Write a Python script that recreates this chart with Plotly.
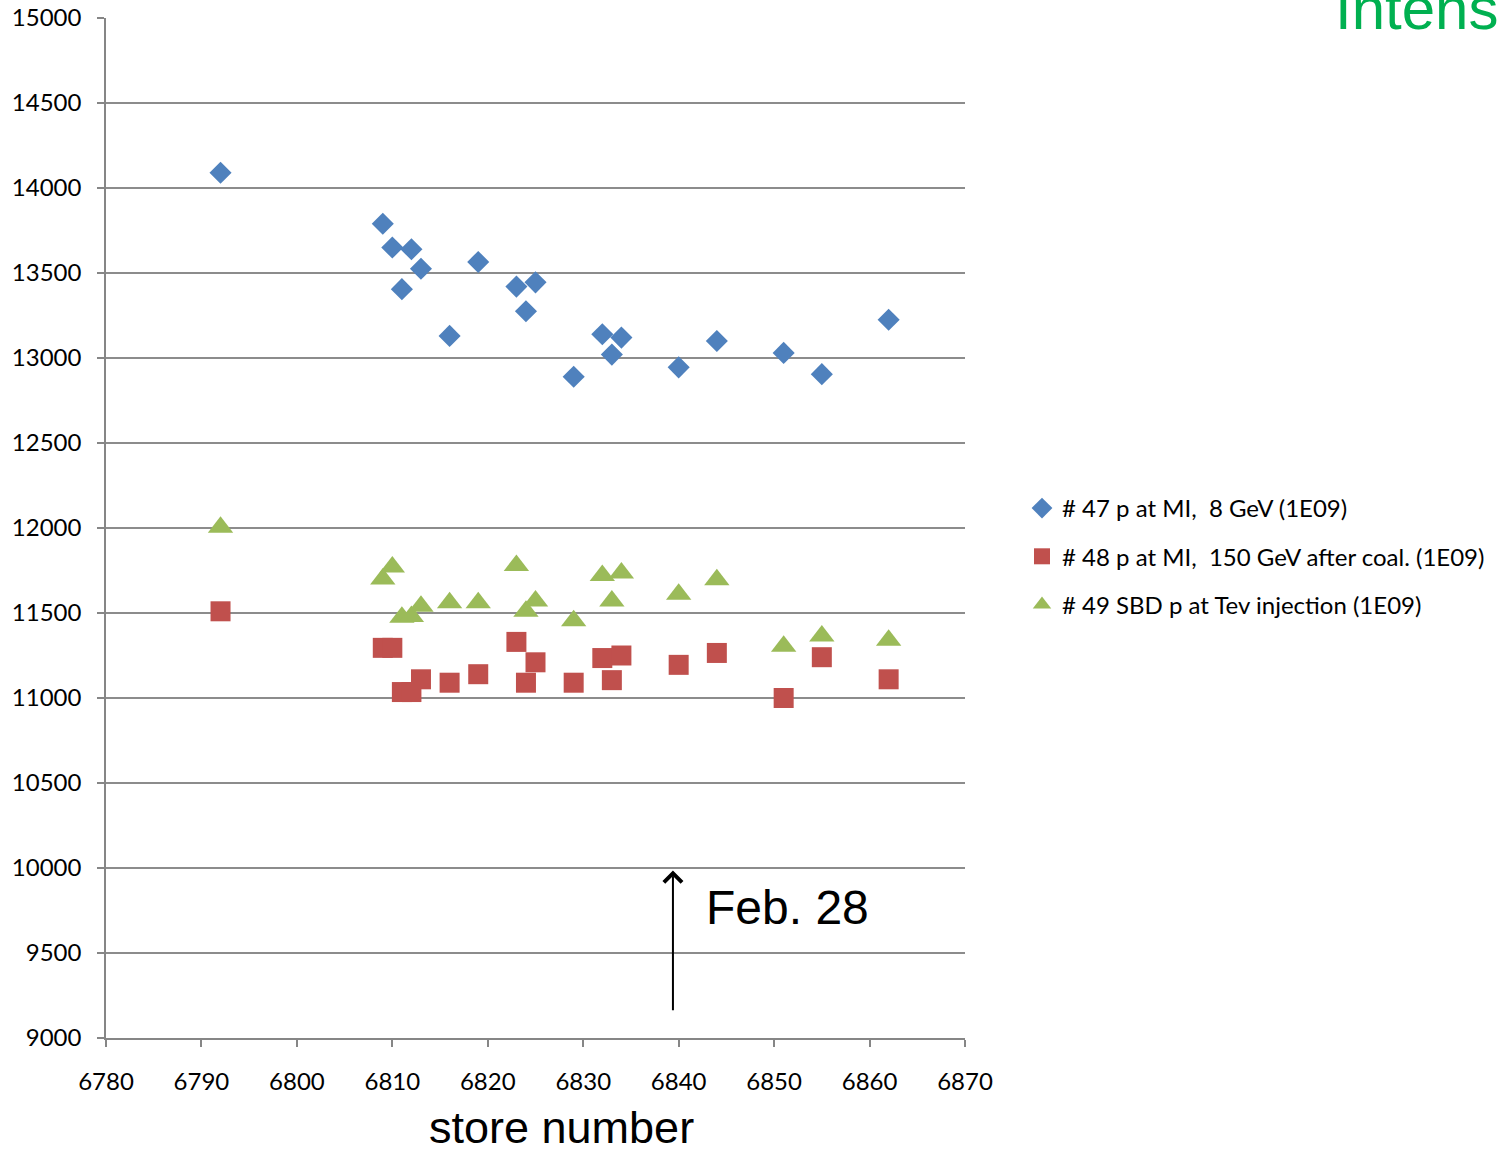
import plotly.graph_objects as go

# store numbers
stores = [6792, 6809, 6810, 6811, 6812, 6813, 6816, 6819, 6823, 6824,
          6825, 6829, 6832, 6833, 6834, 6840, 6844, 6851, 6855, 6862]

# intensities (1E09)
p_mi_8gev = [14090, 13790, 13650, 13405, 13640, 13525, 13130, 13565, 13420, 13275,
             13445, 12890, 13140, 13020, 13120, 12945, 13100, 13030, 12905, 13225]
p_mi_150gev = [11510, 11295, 11295, 11035, 11035, 11110, 11090, 11140, 11330, 11090,
               11210, 11090, 11235, 11105, 11250, 11195, 11265, 11000, 11240, 11110]
p_tev_inj = [12005, 11700, 11770, 11475, 11480, 11540, 11560, 11560, 11780, 11510,
             11570, 11455, 11720, 11570, 11735, 11610, 11695, 11305, 11365, 11340]

names = ["# 47 p at MI,  8 GeV (1E09)",
         "# 48 p at MI,  150 GeV after coal. (1E09)",
         "# 49 SBD p at Tev injection (1E09)"]

x_ticks = list(range(6780, 6871, 10))
y_ticks = list(range(9000, 15001, 500))

FONT = "Lato, Open Sans, sans-serif"
SANS = "Liberation Sans, Arial, sans-serif"

fig = go.Figure()
series = [
    (p_mi_8gev, "diamond", "#4F81BD", 17),
    (p_mi_150gev, "square", "#C0504D", 20),
    (p_tev_inj, "triangle-up", "#9BBB59", 22),
]
for i, (vals, sym, col, sz) in enumerate(series):
    fig.add_trace(go.Scatter(
        x=stores, y=vals, mode="markers", name=names[i], legendgroup=str(i),
        marker=dict(symbol=sym, color=col, size=sz, line=dict(width=0)),
    ))

fig.update_layout(
    width=1498, height=1156,
    margin=dict(l=106, r=533, t=18, b=118, autoexpand=False),
    plot_bgcolor="white", paper_bgcolor="white",
    font=dict(family=FONT, size=24, color="black"),
    showlegend=True,
    legend=dict(
        xref="container", yref="container", x=1022 / 1498, y=1 - 486 / 1156,
        xanchor="left", yanchor="top",
        font=dict(family=FONT, size=24, color="black"),
        tracegroupgap=14, itemwidth=30, bgcolor="rgba(0,0,0,0)",
    ),
    xaxis=dict(
        range=[6780, 6870], tickvals=x_ticks, ticktext=[str(t) for t in x_ticks],
        showgrid=False, zeroline=False, showline=True, linecolor="#868686", linewidth=1.5,
        ticks="outside", ticklen=7, tickcolor="#868686", tickwidth=1.5,
        ticklabelstandoff=14, tickfont=dict(family=FONT, size=24),
    ),
    yaxis=dict(
        range=[9000, 15000], tickvals=y_ticks, ticktext=[str(t) for t in y_ticks],
        showgrid=True, gridcolor="#8C8C8C", gridwidth=1.5, zeroline=False,
        showline=True, linecolor="#868686", linewidth=1.5,
        ticks="outside", ticklen=7, tickcolor="#868686", tickwidth=1.5,
        ticklabelstandoff=11, tickfont=dict(family=FONT, size=24),
    ),
)

# x-axis title
fig.add_annotation(
    text="store number", xref="paper", yref="paper", x=(561 - 106) / 859, y=-117 / 1020,
    xanchor="center", yanchor="bottom", showarrow=False,
    font=dict(family=SANS, size=45, color="black"),
)

# Feb. 28 marker arrow with open head
fig.add_annotation(
    x=6839.4, y=9985, ax=6839.4, ay=9155, xref="x", yref="y", axref="x", ayref="y",
    text="", showarrow=True, arrowhead=4, arrowsize=1.75, arrowwidth=2, arrowcolor="black",
)
fig.add_annotation(
    text="Feb. 28", xref="x", yref="y", x=6842.7, y=9765, xanchor="left", yanchor="middle",
    showarrow=False,
    font=dict(family=SANS, size=48, color="black"),
)

# page title at the top right
fig.add_annotation(
    text="Intensity", xref="paper", yref="paper", x=(1333 - 106) / 859, y=1 + 45 / 1020,
    xanchor="left", yanchor="top", showarrow=False,
    font=dict(family=SANS, size=60, color="#00B050"),
)

fig.write_html("out.html")
